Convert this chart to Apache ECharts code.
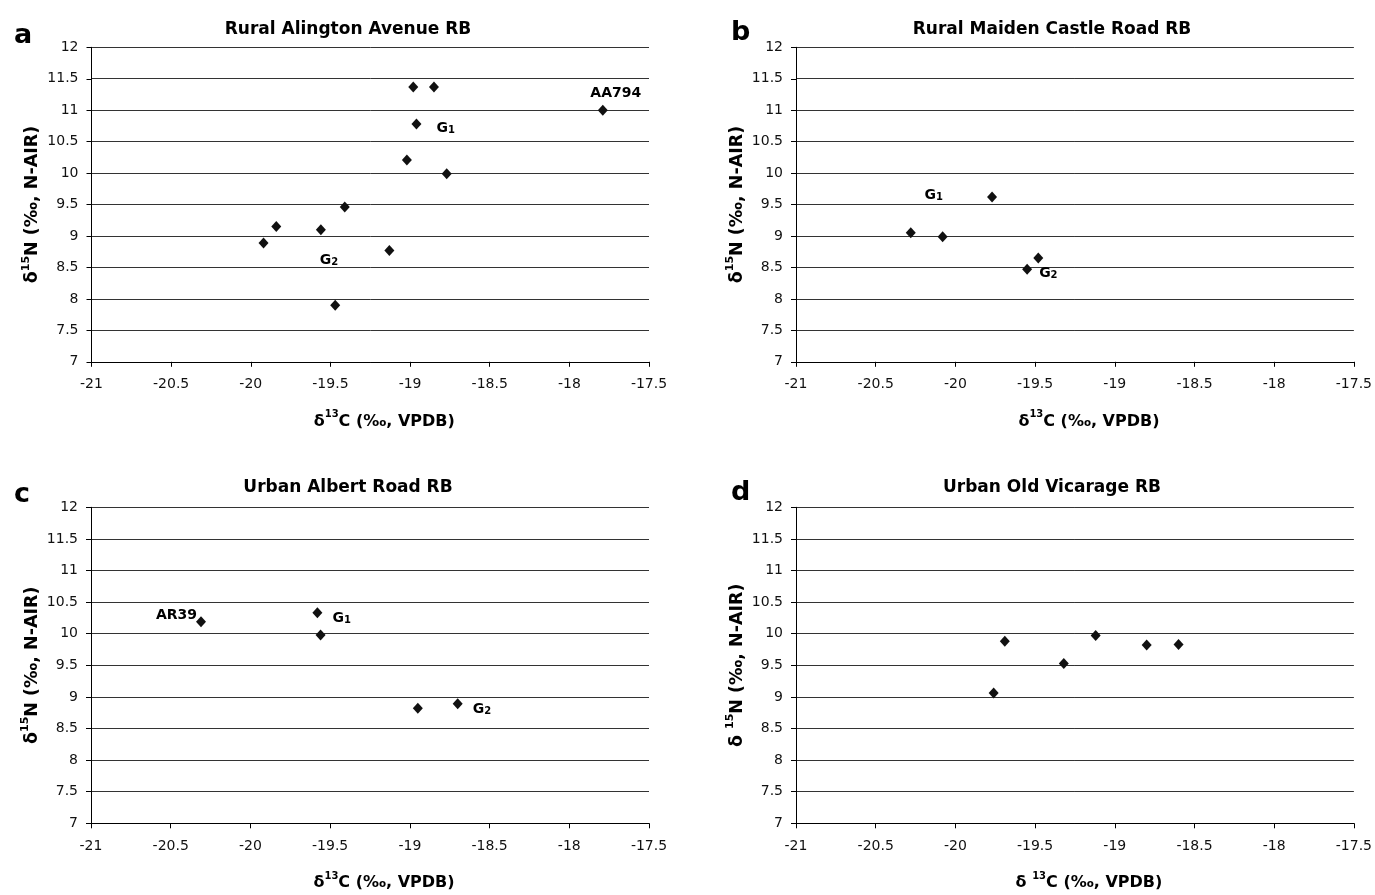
<!DOCTYPE html>
<html><head><meta charset="utf-8">
<script src="https://cdn.jsdelivr.net/npm/echarts@6.0.0/dist/echarts.min.js"></script>
<style>html,body{margin:0;padding:0;background:#fff}#c{width:1375px;height:895px}</style>
</head><body><div id="c"></div>
<script>
// ---- data ----
const panelTitles = ['Rural Alington Avenue RB', 'Rural Maiden Castle Road RB', 'Urban Albert Road RB', 'Urban Old Vicarage RB'];
const panelLetters = ['a', 'b', 'c', 'd'];
const xRange = [-21, -17.5];
const yRange = [7, 12];
const tickStep = 0.5;

const aC = [-18.98, -18.85, -18.96, -19.02, -18.77, -19.41, -19.84, -19.56, -19.92, -19.13, -19.47, -17.79];
const aN = [11.37, 11.37, 10.78, 10.21, 9.99, 9.46, 9.15, 9.10, 8.89, 8.77, 7.90, 11.00];
const bC = [-19.77, -20.28, -20.08, -19.48, -19.55];
const bN = [9.62, 9.05, 8.99, 8.65, 8.47];
const cC = [-20.31, -19.58, -19.56, -18.95, -18.70];
const cN = [10.19, 10.33, 9.98, 8.82, 8.89];
const dC = [-19.69, -19.76, -19.32, -19.12, -18.80, -18.60];
const dN = [9.88, 9.06, 9.53, 9.97, 9.82, 9.83];

// annotation texts, attached to point indices
const aNoteIdx = [11, 2, 7];  const aNoteText = ['AA794', 'G1', 'G2'];
const bNoteIdx = [0, 4];      const bNoteText = ['G1', 'G2'];
const cNoteIdx = [0, 1, 4];   const cNoteText = ['AR39', 'G1', 'G2'];
const dNoteIdx = [];          const dNoteText = [];

// ---- layout / style ----
const FONT = 'DejaVu Sans';
const grids = [
  { left: 91.5, top: 47.3, width: 557.5, height: 314.5 },
  { left: 796, top: 47.3, width: 558, height: 314.5 },
  { left: 91, top: 507.3, width: 558, height: 316 },
  { left: 796, top: 507.3, width: 558, height: 316 }
];
const titlePos = [[343, 16], [1047, 16], [343, 474], [1047, 474]];
const letterPos = [[9, 17], [726, 14], [9, 476], [726, 474]];
const notePlace = [
  [{ position: 'top', offset: [13, -4] }, { position: 'right', offset: [15, 3] }, { position: 'bottom', offset: [8, 15] }],
  [{ position: 'left', offset: [-44, -3] }, { position: 'right', offset: [7, 3] }],
  [{ position: 'left', offset: [1, -8] }, { position: 'right', offset: [10, 4] }, { position: 'right', offset: [10, 4] }],
  []
];
const xNames = ['{m|δ}{p|13}{m|C (‰, VPDB)}', '{m|δ}{p|13}{m|C (‰, VPDB)}', '{m|δ}{p|13}{m|C (‰, VPDB)}', '{m|δ }{p|13}{m|C (‰, VPDB)}'];
const yNames = ['{m|δ}{p|15}{m|N (‰, N-AIR)}', '{m|δ}{p|15}{m|N (‰, N-AIR)}', '{m|δ}{p|15}{m|N (‰, N-AIR)}', '{m|δ }{p|15}{m|N (‰, N-AIR)}'];

const xNameRich = {
  m: { fontFamily: FONT, fontWeight: 'bold', fontSize: 16, lineHeight: 20, color: '#000', verticalAlign: 'bottom' },
  p: { fontFamily: FONT, fontWeight: 'bold', fontSize: 10, lineHeight: 10, color: '#000', verticalAlign: 'top' }
};
const yNameRich = {
  m: { fontFamily: FONT, fontWeight: 'bold', fontSize: 17.5, lineHeight: 21, color: '#000', verticalAlign: 'bottom' },
  p: { fontFamily: FONT, fontWeight: 'bold', fontSize: 11, lineHeight: 11, color: '#000', verticalAlign: 'top' }
};
const noteRich = {
  g: { fontFamily: FONT, fontWeight: 'bold', fontSize: 14, lineHeight: 17, color: '#000', verticalAlign: 'bottom' },
  s: { fontFamily: FONT, fontWeight: 'bold', fontSize: 10, lineHeight: 10, color: '#000', verticalAlign: 'bottom' }
};

const allC = [aC, bC, cC, dC];
const allN = [aN, bN, cN, dN];
const allIdx = [aNoteIdx, bNoteIdx, cNoteIdx, dNoteIdx];
const allTxt = [aNoteText, bNoteText, cNoteText, dNoteText];

function toRich(t) {
  const m = /^G(\d)$/.exec(t);
  return m ? '{g|G}{s|' + m[1] + '}' : '{g|' + t + '}';
}

const titles = [], xAxes = [], yAxes = [], series = [];
for (let i = 0; i < 4; i++) {
  titles.push({
    text: panelTitles[i], left: titlePos[i][0], top: titlePos[i][1], textAlign: 'center',
    textStyle: { fontFamily: FONT, fontWeight: 'bold', fontSize: 17, lineHeight: 18, color: '#000' }
  });
  titles.push({
    text: panelLetters[i], left: letterPos[i][0], top: letterPos[i][1],
    textStyle: { fontFamily: FONT, fontWeight: 'bold', fontSize: 27, lineHeight: 28, color: '#000' }
  });
  xAxes.push({
    gridIndex: i, type: 'value', min: xRange[0], max: xRange[1], interval: tickStep,
    axisLine: { show: true, onZero: false, lineStyle: { color: '#000', width: 1 } },
    axisTick: { show: true, length: 5, lineStyle: { color: '#000' } },
    axisLabel: { margin: 16, fontFamily: FONT, fontSize: 14, color: '#111' },
    splitLine: { show: false },
    name: xNames[i], nameLocation: 'middle', nameGap: 48,
    nameTextStyle: { rich: xNameRich, padding: [0, 0, 0, 28] }
  });
  yAxes.push({
    gridIndex: i, type: 'value', min: yRange[0], max: yRange[1], interval: tickStep,
    axisLine: { show: true, onZero: false, lineStyle: { color: '#000', width: 1 } },
    axisTick: { show: true, length: 5, lineStyle: { color: '#000' } },
    axisLabel: { margin: 13, fontFamily: FONT, fontSize: 14, color: '#111' },
    splitLine: { show: true, lineStyle: { color: '#333', width: 1 } },
    name: yNames[i], nameLocation: 'middle', nameGap: 50, nameRotate: 90,
    nameTextStyle: { rich: yNameRich }
  });
  const data = allC[i].map((x, k) => {
    const item = { value: [x, allN[i][k]] };
    const j = allIdx[i].indexOf(k);
    if (j >= 0) {
      item.label = Object.assign({
        show: true, distance: 0, formatter: toRich(allTxt[i][j]), rich: noteRich, color: '#000'
      }, notePlace[i][j]);
    }
    return item;
  });
  series.push({
    type: 'scatter', xAxisIndex: i, yAxisIndex: i, data,
    symbol: 'diamond', symbolSize: [10, 11],
    itemStyle: { color: '#111', opacity: 1 },
    label: { show: false },
    emphasis: { disabled: true }
  });
}

const chart = echarts.init(document.getElementById('c'), null, { renderer: 'canvas' });
chart.setOption({
  animation: false,
  backgroundColor: '#fff',
  title: titles,
  grid: grids,
  xAxis: xAxes,
  yAxis: yAxes,
  series
});
</script>
</body></html>
